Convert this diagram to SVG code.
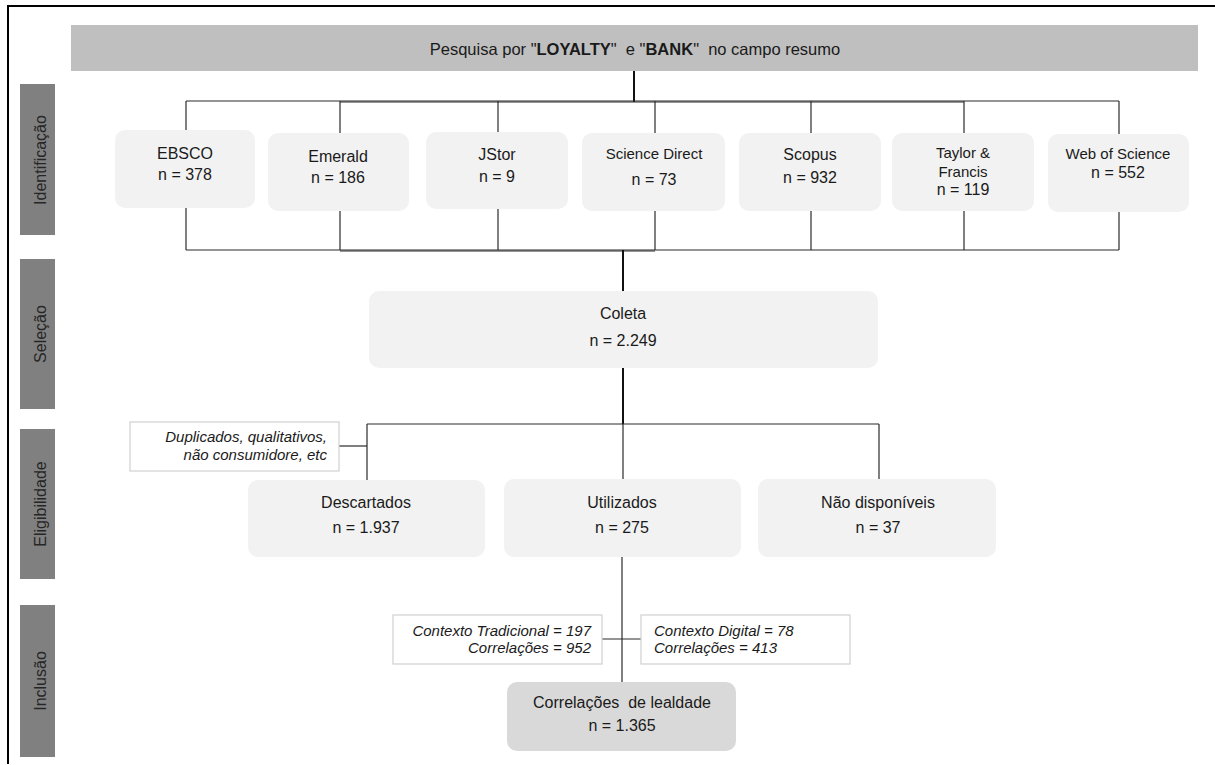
<svg xmlns="http://www.w3.org/2000/svg" width="1215" height="765" viewBox="0 0 1215 765">
<style>
text{font-family:"Liberation Sans",Arial,sans-serif;fill:#1a1a1a}
.t{font-size:16px;text-anchor:middle}
.tb{font-size:16.5px;text-anchor:middle}
.ts{font-size:15px;text-anchor:middle}
.it{font-size:15px;font-style:italic}
.side{font-size:16px;text-anchor:middle;fill:#262626}
.bar{fill:#808080}
.box{fill:#f2f2f2}
.note{fill:#ffffff;stroke:#d0d0d0;stroke-width:1.2}
.c{stroke:#2a2a2a;stroke-width:1.2;fill:none}
.cb{stroke:#111;stroke-width:2;fill:none}
</style>
<rect width="1215" height="765" fill="#ffffff"/>
<g id="frame">
<line x1="8" y1="6" x2="1215" y2="6" stroke="#000" stroke-width="2"/>
<line x1="8" y1="5" x2="8" y2="764" stroke="#000" stroke-width="2"/>
</g>
<g id="phases">
<rect class="bar" x="20" y="84" width="35" height="151"/>
<text class="side" transform="translate(46,160) rotate(-90)">Identificação</text>
<rect class="bar" x="20" y="259" width="35" height="150"/>
<text class="side" transform="translate(46,334) rotate(-90)">Seleção</text>
<rect class="bar" x="20" y="429" width="35" height="150"/>
<text class="side" transform="translate(46,504) rotate(-90)">Eligibilidade</text>
<rect class="bar" x="20" y="605" width="35" height="152"/>
<text class="side" transform="translate(46,681) rotate(-90)">Inclusão</text>
</g>
<g id="connectors">
<line class="cb" x1="634" y1="71" x2="634" y2="102"/>
<line class="c" x1="186" y1="101" x2="1119" y2="101"/>
<line class="c" x1="340" y1="102" x2="964" y2="102"/>
<line class="c" x1="186" y1="101" x2="186" y2="131"/>
<line class="c" x1="340" y1="101" x2="340" y2="133"/>
<line class="c" x1="498" y1="101" x2="498" y2="132"/>
<line class="c" x1="655" y1="101" x2="655" y2="133"/>
<line class="c" x1="811" y1="101" x2="811" y2="133"/>
<line class="c" x1="964" y1="101" x2="964" y2="133"/>
<line class="c" x1="1119" y1="101" x2="1119" y2="134"/>
<line class="c" x1="186" y1="208" x2="186" y2="250"/>
<line class="c" x1="340" y1="211" x2="340" y2="250"/>
<line class="c" x1="498" y1="209" x2="498" y2="250"/>
<line class="c" x1="655" y1="211" x2="655" y2="250"/>
<line class="c" x1="811" y1="211" x2="811" y2="250"/>
<line class="c" x1="964" y1="211" x2="964" y2="250"/>
<line class="c" x1="1119" y1="212" x2="1119" y2="250"/>
<line class="c" x1="186" y1="250" x2="1119" y2="250"/>
<line class="c" x1="340" y1="251" x2="655" y2="251"/>
<line class="cb" x1="623" y1="250" x2="623" y2="291"/>
<line class="cb" x1="623" y1="368" x2="623" y2="424"/>
<line class="c" x1="367" y1="424" x2="879" y2="424"/>
<line class="c" x1="367" y1="424" x2="367" y2="480"/>
<line class="c" x1="623" y1="424" x2="623" y2="479"/>
<line class="c" x1="879" y1="424" x2="879" y2="479"/>
<line class="c" x1="339" y1="446" x2="367" y2="446"/>
<line class="c" x1="622" y1="557" x2="622" y2="682"/>
<line class="c" x1="602" y1="639" x2="641" y2="639"/>
</g>
<g id="banner">
<rect x="71" y="25" width="1127" height="46" fill="#bfbfbf"/>
<text class="tb" x="635" y="55" xml:space="preserve">Pesquisa por "<tspan font-weight="bold">LOYALTY</tspan>"  e "<tspan font-weight="bold">BANK</tspan>"  no campo resumo</text>
</g>
<g id="ebsco">
<rect class="box" x="115" y="130" width="140" height="78" rx="10"/>
<text class="t" x="185" y="159">EBSCO</text>
<text class="t" x="185" y="180">n = 378</text>
</g>
<g id="emerald">
<rect class="box" x="268" y="133" width="141" height="78" rx="10"/>
<text class="t" x="338" y="162">Emerald</text>
<text class="t" x="338" y="183">n = 186</text>
</g>
<g id="jstor">
<rect class="box" x="426" y="132" width="142" height="77" rx="10"/>
<text class="t" x="497" y="160">JStor</text>
<text class="t" x="497" y="182">n = 9</text>
</g>
<g id="sciencedirect">
<rect class="box" x="582" y="133" width="143" height="78" rx="10"/>
<text class="ts" x="654" y="159">Science Direct</text>
<text class="t" x="654" y="185">n = 73</text>
</g>
<g id="scopus">
<rect class="box" x="739" y="133" width="142" height="78" rx="10"/>
<text class="t" x="810" y="160">Scopus</text>
<text class="t" x="810" y="183">n = 932</text>
</g>
<g id="taylor">
<rect class="box" x="892" y="133" width="142" height="78" rx="10"/>
<text class="ts" x="963" y="158">Taylor &amp;</text>
<text class="ts" x="963" y="177">Francis</text>
<text class="t" x="963" y="195">n = 119</text>
</g>
<g id="wos">
<rect class="box" x="1048" y="134" width="141" height="78" rx="10"/>
<text class="ts" x="1118" y="159">Web of Science</text>
<text class="t" x="1118" y="178">n = 552</text>
</g>
<g id="coleta">
<rect class="box" x="369" y="291" width="509" height="77" rx="10"/>
<text class="t" x="623" y="319">Coleta</text>
<text class="t" x="623" y="346">n = 2.249</text>
</g>
<g id="note-exclusao">
<rect class="note" x="130" y="422" width="209" height="49"/>
<text class="it" x="327" y="442" text-anchor="end">Duplicados, qualitativos,</text>
<text class="it" x="327" y="460" text-anchor="end">não consumidore, etc</text>
</g>
<g id="descartados">
<rect class="box" x="248" y="480" width="237" height="77" rx="10"/>
<text class="t" x="366" y="508">Descartados</text>
<text class="t" x="366" y="533">n = 1.937</text>
</g>
<g id="utilizados">
<rect class="box" x="504" y="479" width="237" height="78" rx="10"/>
<text class="t" x="622" y="508">Utilizados</text>
<text class="t" x="622" y="533">n = 275</text>
</g>
<g id="naodisponiveis">
<rect class="box" x="758" y="479" width="238" height="78" rx="10"/>
<text class="t" x="878" y="508">Não disponíveis</text>
<text class="t" x="878" y="533">n = 37</text>
</g>
<g id="note-tradicional">
<rect class="note" x="393" y="615" width="209" height="49"/>
<text class="it" x="591" y="636" text-anchor="end">Contexto Tradicional = 197</text>
<text class="it" x="591" y="653" text-anchor="end">Correlações = 952</text>
</g>
<g id="note-digital">
<rect class="note" x="641" y="615" width="209" height="49"/>
<text class="it" x="654" y="636">Contexto Digital = 78</text>
<text class="it" x="654" y="653">Correlações = 413</text>
</g>
<g id="correlacoes">
<rect x="507" y="682" width="229" height="69" rx="10" fill="#d9d9d9"/>
<text class="t" x="622" y="708" xml:space="preserve">Correlações  de lealdade</text>
<text class="t" x="622" y="731">n = 1.365</text>
</g>
</svg>
